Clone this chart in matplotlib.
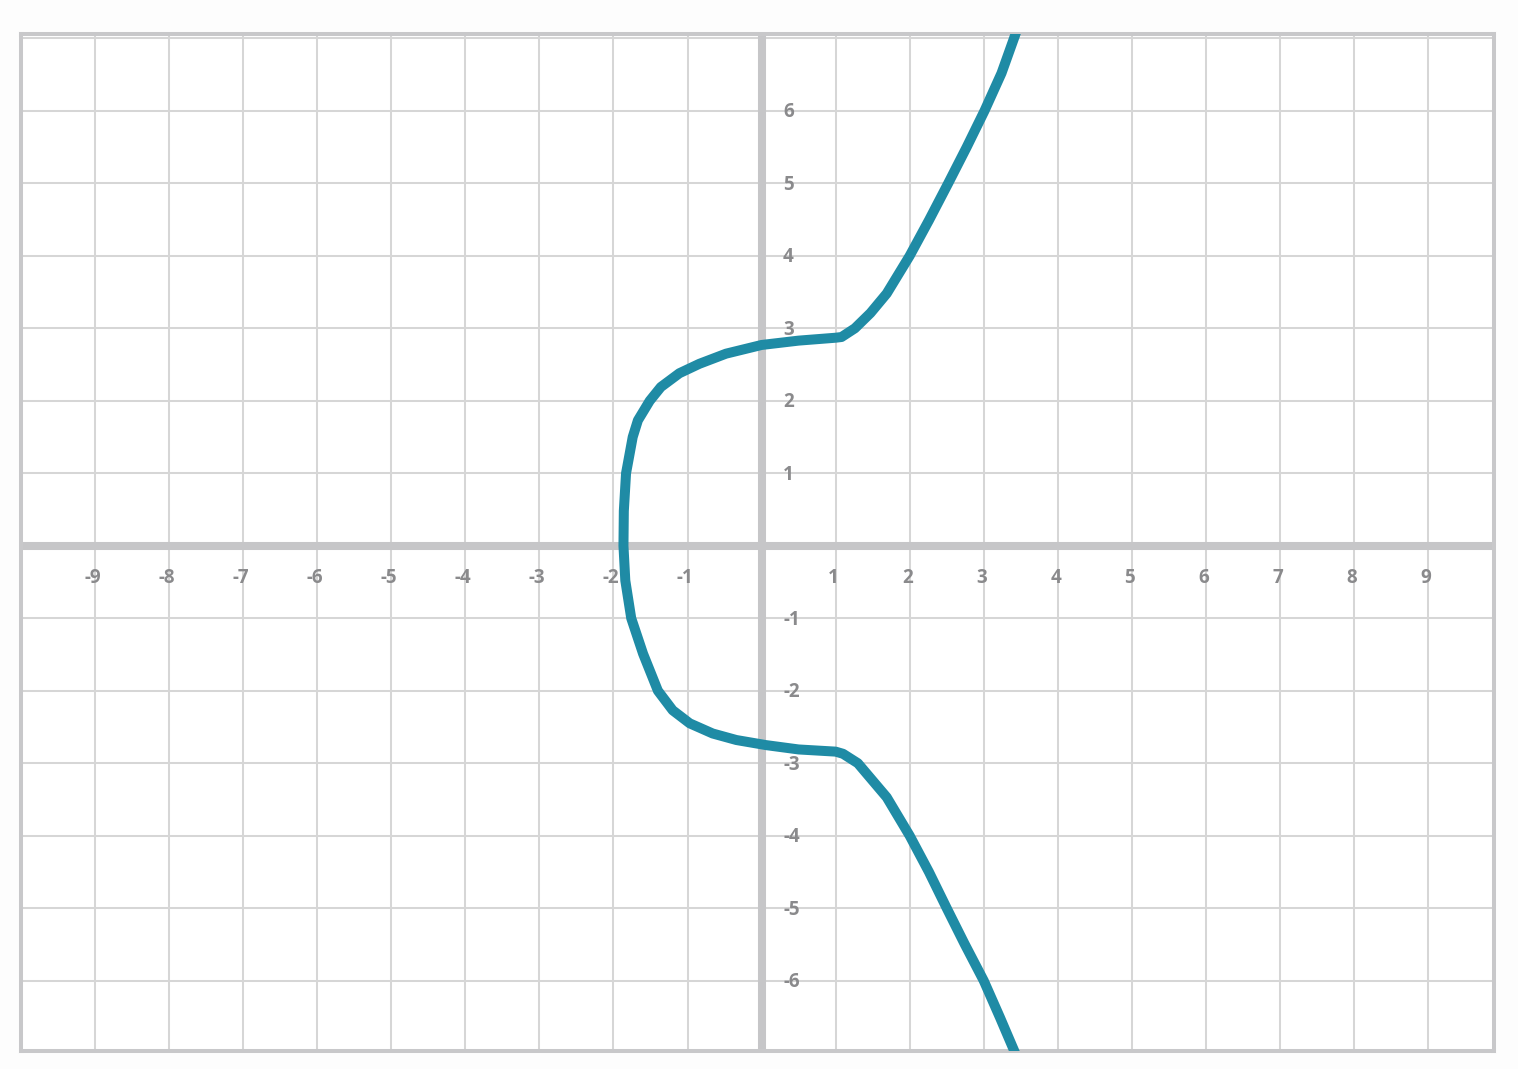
import matplotlib.pyplot as plt

# curve points, traced from the top end down to the bottom end
curve_x = [3.45, 3.24, 3.01, 2.77, 2.52, 2.26, 2.0, 1.69, 1.47, 1.26, 1.08, 1.0,
           0.5, 0.0, -0.48, -0.84, -1.11, -1.36, -1.51, -1.67, -1.74, -1.83, -1.86,
           -1.865,
           -1.84, -1.76, -1.60, -1.40, -1.20, -0.97, -0.66, -0.34, 0.06, 0.5, 1.0,
           1.10, 1.30, 1.69, 2.0, 2.26, 2.50, 2.74, 3.0, 3.22, 3.45]
curve_y = [7.12, 6.52, 6.0, 5.5, 5.0, 4.49, 4.0, 3.48, 3.21, 3.0, 2.88, 2.87,
           2.83, 2.77, 2.65, 2.51, 2.38, 2.19, 2.0, 1.73, 1.5, 1.0, 0.48,
           0.0,
           -0.48, -1.0, -1.49, -2.0, -2.27, -2.45, -2.59, -2.68, -2.75, -2.81, -2.84,
           -2.87, -3.0, -3.47, -4.0, -4.5, -5.0, -5.49, -6.0, -6.51, -7.06]

x_ticks = [-9, -8, -7, -6, -5, -4, -3, -2, -1, 1, 2, 3, 4, 5, 6, 7, 8, 9]
y_ticks = [-6, -5, -4, -3, -2, -1, 1, 2, 3, 4, 5, 6]

fig = plt.figure(figsize=(15.18, 10.69), dpi=100, facecolor='#fdfdfd')
ax = fig.add_axes([21 / 1518, 18 / 1069, 1473 / 1518, 1017 / 1069])
ax.set_facecolor('white')

ax.set_xlim(-10.0, 9.89)
ax.set_ylim(-6.97, 7.06)

ax.set_xticks(range(-9, 10))
ax.set_yticks(range(-6, 8))
ax.tick_params(length=0, labelbottom=False, labelleft=False)
ax.grid(True, color='#d6d6d6', linewidth=1.45, zorder=0)
ax.set_axisbelow(True)

for s in ax.spines.values():
    s.set_color('#c8c8ca')
    s.set_linewidth(2.9)

ax.axhline(0, color='#c6c6c8', linewidth=5.8, zorder=1)
ax.axvline(0, color='#c6c6c8', linewidth=5.8, zorder=1)

lab = dict(color='#8a8a8c', fontsize=13.5, fontweight='bold', family='Open Sans', zorder=2)
for t in x_ticks:
    ax.text(t - 0.03, -0.45, str(t), ha='center', va='center', **lab)
for t in y_ticks:
    ax.text(0.29, t - 0.02, str(t), ha='left', va='center', **lab)

ax.plot(curve_x, curve_y, color='#1f8ba5', linewidth=7.2,
        solid_joinstyle='round', solid_capstyle='butt', zorder=3)

fig.savefig('out.png', dpi=100, facecolor=fig.get_facecolor())
